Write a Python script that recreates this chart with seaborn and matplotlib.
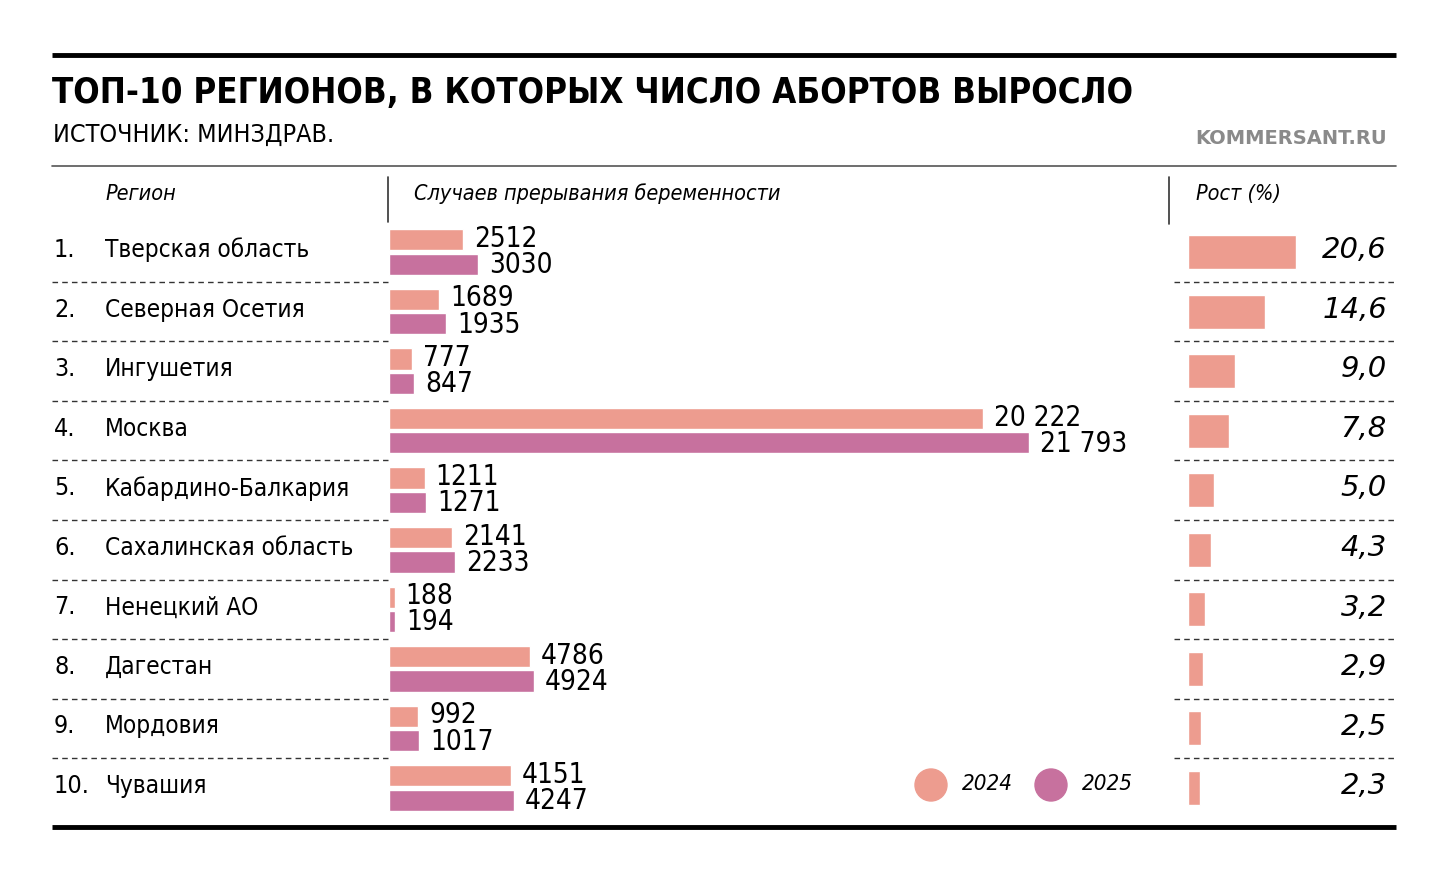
import pandas as pd
import seaborn as sns
import matplotlib.pyplot as plt
from matplotlib.patches import Circle

# Данные
regions = ["Тверская область", "Северная Осетия", "Ингушетия", "Москва",
           "Кабардино-Балкария", "Сахалинская область", "Ненецкий АО",
           "Дагестан", "Мордовия", "Чувашия"]
cases_2024 = [2512, 1689, 777, 20222, 1211, 2141, 188, 4786, 992, 4151]
cases_2025 = [3030, 1935, 847, 21793, 1271, 2233, 194, 4924, 1017, 4247]
growth = [20.6, 14.6, 9.0, 7.8, 5.0, 4.3, 3.2, 2.9, 2.5, 2.3]
years = ["2024", "2025"]

C24 = "#ED9C8F"
C25 = "#C7719E"
W, H = 1440, 874

sns.set_theme(style="white")
plt.rcParams["font.family"] = ["DejaVu Sans"]
plt.rcParams["font.stretch"] = "condensed"
plt.rcParams["text.color"] = "black"

fig = plt.figure(figsize=(W / 100, H / 100), dpi=100)


def fx(x):
    return x / W


def fy(y):
    return 1 - y / H


# Оси для столбиков
row_top, row_bot = 222.2, 817.8
ax = fig.add_axes([fx(389), fy(row_bot), fx(1169 - 389), (row_bot - row_top) / H])
ax2 = fig.add_axes([fx(1188), fy(row_bot), fx(1396 - 1188), (row_bot - row_top) / H])

df = pd.DataFrame({
    "region": regions * 2,
    "year": [years[0]] * len(regions) + [years[1]] * len(regions),
    "cases": cases_2024 + cases_2025,
})
sns.barplot(data=df, y="region", x="cases", hue="year", orient="h",
            palette=[C24, C25], saturation=1, width=0.82, gap=0.13,
            legend=False, ax=ax)
ax.set_xlim(0, 780 / (640 / 21793))
ax.set_ylim(9.5, -0.5)


def fmt(v):
    return f"{v:,}".replace(",", " ") if v >= 10000 else str(v)


for k, bars in enumerate(ax.containers):
    shift = -0.015 if k == 0 else 0.015
    for b in bars:
        w = b.get_width()
        ax.text(w + 380, b.get_y() + b.get_height() / 2 + shift, fmt(int(w)),
                va="center", ha="left", fontsize=20)

gdf = pd.DataFrame({"region": regions, "growth": growth})
sns.barplot(data=gdf, y="region", x="growth", orient="h", color=C24,
            saturation=1, width=0.57, ax=ax2)
ax2.set_xlim(0, 208 / 5.24)
ax2.set_ylim(9.5, -0.5)
for i, g in enumerate(growth):
    ax2.text((1387 - 1188) / 5.24, i - 0.03, f"{g:.1f}".replace(".", ","),
             ha="right", va="center", fontsize=21, style="italic",
             fontstretch="normal")

for a in (ax, ax2):
    a.axis("off")

# Подписи регионов и разделители
ov = fig.add_axes([0, 0, 1, 1])
ov.set_xlim(0, W)
ov.set_ylim(H, 0)
ov.axis("off")

step = (row_bot - row_top) / 10
for i, name in enumerate(regions):
    cy = row_top + step * (i + 0.5) - 2
    ov.text(54, cy, f"{i + 1}.", fontsize=18, va="center", ha="left")
    ov.text(105, cy, name, fontsize=17.5, va="center", ha="left")
    if i < 9:
        sy = row_top + step * (i + 1)
        ov.plot([52, 388], [sy, sy], ls=(0, (4, 3)), color="#333333", lw=1)
        ov.plot([1174, 1396], [sy, sy], ls=(0, (4, 3)), color="#333333", lw=1)

# Линии рамки
ov.plot([52, 1396], [55, 55], color="black", lw=3.5, solid_capstyle="butt")
ov.plot([52, 1396], [166, 166], color="#555555", lw=1.2)
ov.plot([52, 1396], [827, 827], color="black", lw=3.5, solid_capstyle="butt")
ov.plot([388, 388], [177, 222], color="#333333", lw=1.2)
ov.plot([1169, 1169], [177, 224], color="#333333", lw=1.2)

# Заголовки
ov.text(52, 93, "ТОП-10 РЕГИОНОВ, В КОТОРЫХ ЧИСЛО АБОРТОВ ВЫРОСЛО",
        fontsize=25, fontweight="heavy", va="center", ha="left")
ov.text(53, 135, "ИСТОЧНИК: МИНЗДРАВ.", fontsize=18, va="center", ha="left")
ov.text(1387, 139, "KOMMERSANT.RU", fontsize=14, fontweight="bold",
        fontstretch="normal", color="#8a8a8a", va="center", ha="right")
ov.text(105, 194, "Регион", fontsize=15.5, style="italic", va="center")
ov.text(414, 194, "Случаев прерывания беременности", fontsize=15.5,
        style="italic", va="center")
ov.text(1196, 194, "Рост (%)", fontsize=15.5, style="italic", va="center")

# Легенда
for cx, col, lab in [(931, C24, years[0]), (1051, C25, years[1])]:
    ov.add_patch(Circle((cx, 785), 16, color=col))
    ov.text(cx + 31, 784, lab, fontsize=16, style="italic", va="center")

fig.savefig("out.png", dpi=100)
